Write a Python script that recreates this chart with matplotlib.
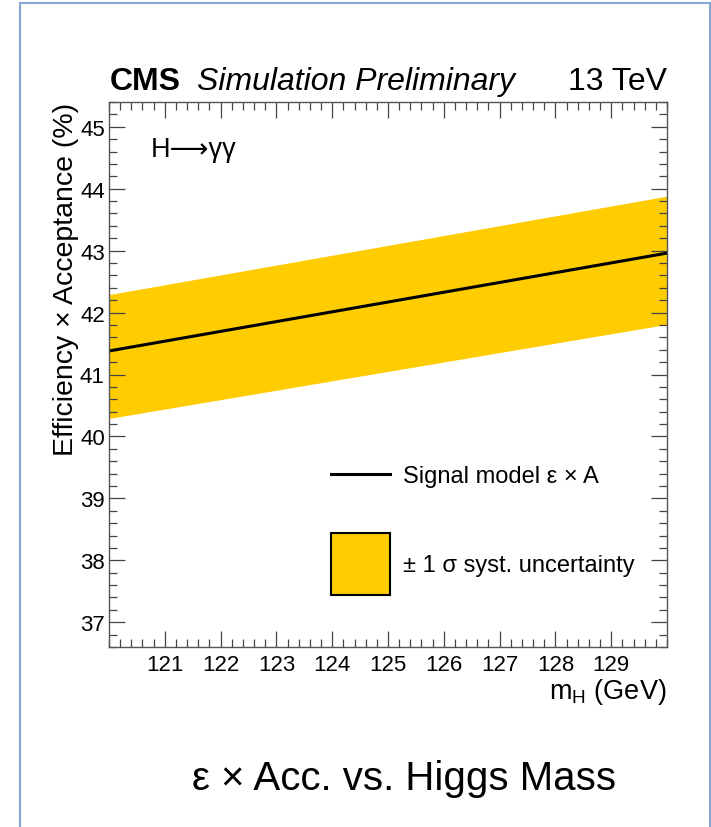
import matplotlib
matplotlib.use("Agg")
import matplotlib.pyplot as plt
from matplotlib.lines import Line2D
from matplotlib.patches import Patch, Rectangle
from matplotlib.ticker import MultipleLocator

plt.rcParams['font.family'] = ['Liberation Sans', 'DejaVu Sans']
plt.rcParams['mathtext.default'] = 'regular'

# m_H (GeV) and efficiency x acceptance (%)
mass = [120.0, 130.0]
eff_acc = [41.38, 42.96]
eff_up = [42.29, 43.88]
eff_down = [40.29, 41.81]

x_ticks = [121, 122, 123, 124, 125, 126, 127, 128, 129]
y_ticks = [37, 38, 39, 40, 41, 42, 43, 44, 45]
legend_labels = ['Signal model \u03b5 \u00d7 A', '\u00b1 1 \u03c3 syst. uncertainty']

band_col = '#ffcc00'
W, H = 711, 828

fig = plt.figure(figsize=(W / 100, H / 100), dpi=100)

# light blue frame round the slide
fig.patches.append(Rectangle((20 / W, -0.05), 689.5 / W, 1.05 - 4 / H,
                             transform=fig.transFigure, fill=False,
                             edgecolor='#86a6d6', lw=1.5))

ax = fig.add_axes([109 / W, 1 - 648 / H, 558 / W, 545 / H])
ax.fill_between(mass, eff_down, eff_up, color=band_col, lw=0)
ax.plot(mass, eff_acc, color='black', lw=2.2)

ax.set_xlim(120, 130)
ax.set_ylim(36.6, 45.4)
ax.set_xticks(x_ticks)
ax.set_yticks(y_ticks)
ax.xaxis.set_minor_locator(MultipleLocator(0.2))
ax.yaxis.set_minor_locator(MultipleLocator(0.2))
ax.tick_params(which='both', direction='in', top=True, right=True,
               color='#444444', width=0.9, labelsize=16)
ax.tick_params(which='major', length=11.5)
ax.tick_params(which='minor', length=5.8)
ax.tick_params(axis='x', pad=5)
ax.tick_params(axis='y', pad=3)
for s in ax.spines.values():
    s.set_color('#555555')
    s.set_linewidth(1.0)

ax.set_ylabel('Efficiency \u00d7 Acceptance (%)', fontsize=20.5, loc='top', labelpad=1)
ax.set_xlabel(r'm$_\mathregular{H}$ (GeV)', fontsize=19.5, loc='right', labelpad=1)

# header
fig.text(110 / W, 1 - 90 / H, 'CMS', fontsize=23, fontweight='bold', va='baseline')
fig.text(197 / W, 1 - 90 / H, 'Simulation Preliminary', fontsize=23, style='italic', va='baseline')
fig.text(667 / W, 1 - 90 / H, '13 TeV', fontsize=23, ha='right', va='baseline')

ax.text(0.074, 0.9, 'H\u27f6\u03b3\u03b3', transform=ax.transAxes, fontsize=19.5,
        va='baseline')

# legend: one entry per box so the text sits level with each handle
leg_kw = dict(loc='center left', frameon=False, fontsize=17, borderpad=0,
              handlelength=2.5, handletextpad=0.55, borderaxespad=0)
leg1 = ax.legend([Line2D([], [], color='black', lw=2.2)], legend_labels[:1],
                 bbox_to_anchor=(0.398, 0.313), **leg_kw)
ax.add_artist(leg1)
ax.legend([Patch(facecolor=band_col, edgecolor='black', lw=1.5)], legend_labels[1:],
          bbox_to_anchor=(0.398, 0.152), handleheight=3.7, **leg_kw)

fig.text(404 / W, 1 - 790 / H, '\u03b5 \u00d7 Acc. vs. Higgs Mass', fontsize=29,
         ha='center', va='baseline')

fig.savefig('out.png', dpi=100)
